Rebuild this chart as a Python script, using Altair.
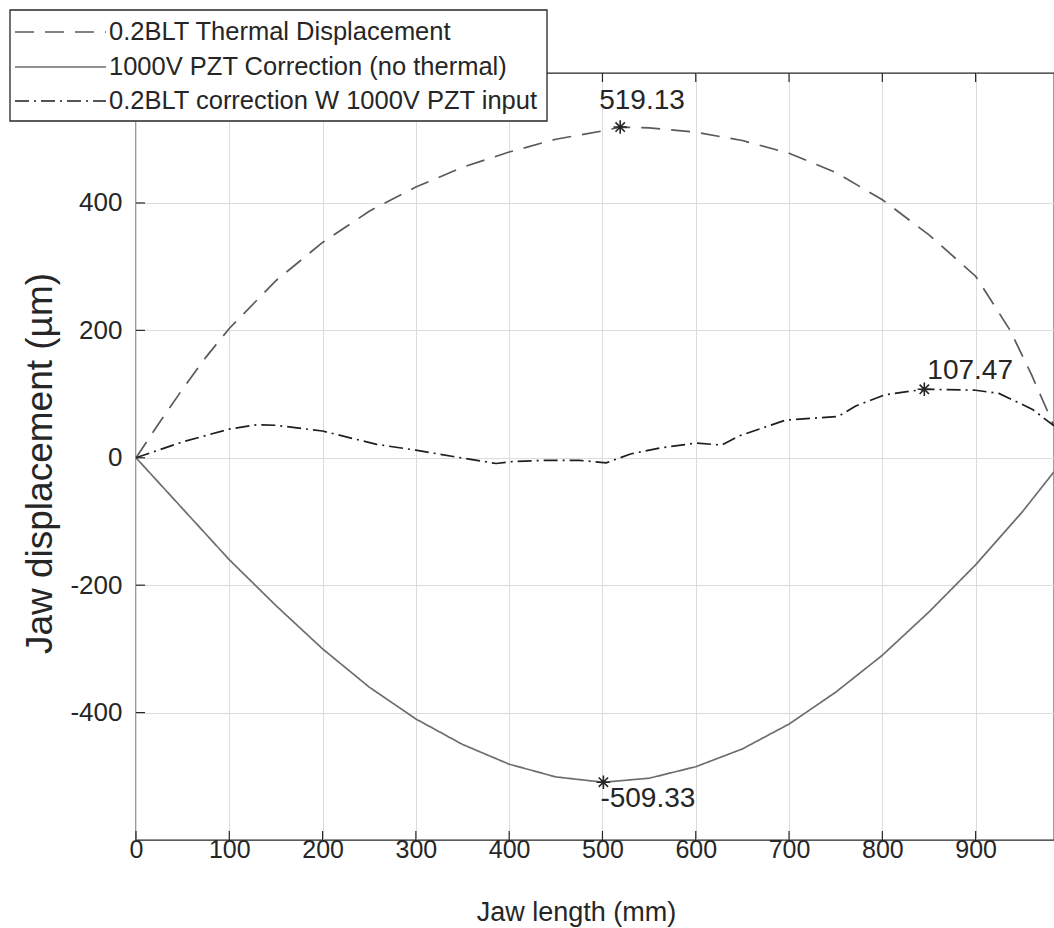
import altair as alt
import pandas as pd

SERIES = [
    "0.2BLT Thermal Displacement",
    "1000V PZT Correction (no thermal)",
    "0.2BLT correction W 1000V PZT input",
]

thermal_x = [0, 25, 50, 75, 100, 150, 200, 250, 300, 350, 400, 450, 500, 519, 550, 600,
             650, 700, 750, 800, 850, 900, 937, 960, 984]
thermal_y = [0, 55, 108, 158, 203, 278, 338, 387, 425, 456, 480, 500, 513, 519.13, 518, 511,
             498, 478, 448, 405, 350, 285, 200, 130, 50]

pzt_x = [0, 50, 100, 150, 200, 250, 300, 350, 400, 450, 501, 550, 600, 650, 700, 750, 800,
         850, 900, 950, 984]
pzt_y = [0, -80, -160, -232, -300, -360, -410, -450, -481, -501, -509.33, -503, -485, -457,
         -418, -368, -310, -242, -168, -85, -22]

corr_x = [0, 50, 100, 130, 150, 200, 258, 300, 340, 386, 403, 440, 475, 504, 530, 564, 600,
          628, 646, 696, 753, 771, 803, 845, 870, 900, 925, 961, 984]
corr_y = [0, 25, 45, 52, 51, 42, 21, 12, 2, -9, -6, -4, -4, -8, 6, 16, 23,
          20, 34, 59, 65, 81, 99, 107.47, 107, 106, 101, 76, 50]

peak_x = [519, 501, 845]
peak_y = [519.13, -509.33, 107.47]
peak_label = ["519.13", "-509.33", "107.47"]

X_TICKS = [0, 100, 200, 300, 400, 500, 600, 700, 800, 900]
Y_TICKS = [-400, -200, 0, 200, 400]

FONT = "Liberation Sans"
INK = "#262626"
W, H = 918, 767

frames = []
for name, xs_, ys_ in zip(SERIES, [thermal_x, pzt_x, corr_x], [thermal_y, pzt_y, corr_y]):
    frames.append(pd.DataFrame({"x": xs_, "y": ys_, "series": name}))
lines_df = pd.concat(frames, ignore_index=True)

xscale = alt.Scale(domain=[0, 984], nice=False, zero=False)
yscale = alt.Scale(domain=[-600, 604], nice=False, zero=False)

xaxis = alt.Axis(values=X_TICKS, title="Jaw length (mm)", grid=True, gridColor="#dcdcdc",
                 gridWidth=1, domain=False, ticks=False, labelFont=FONT, labelFontSize=25,
                 labelColor=INK, labelPadding=-3, labelFlush=False, labelOverlap=False,
                 titleFont=FONT, titleFontSize=27, titleFontWeight="normal", titleColor=INK,
                 titleX=440, titleY=72, titleBaseline="middle")
yaxis = alt.Axis(values=Y_TICKS, title="Jaw displacement (µm)", grid=True, gridColor="#dcdcdc",
                 gridWidth=1, domain=False, ticks=False, labelFont=FONT, labelFontSize=26,
                 labelColor=INK, labelPadding=14, labelFlush=False, labelOverlap=False,
                 labelExpr="'' + datum.value",
                 titleFont=FONT, titleFontSize=37, titleFontWeight="normal", titleColor=INK,
                 titleAngle=270, titleX=-96, titleY=390, titleBaseline="middle")

X = alt.X("x:Q", scale=xscale, axis=xaxis)
Y = alt.Y("y:Q", scale=yscale, axis=yaxis)

COLORS = ["#5a5a5a", "#6e6e6e", "#1e1e1e"]
DASHES = [[19, 11], [1, 0], [14, 5, 2, 5]]

lines = alt.Chart(lines_df).mark_line(strokeWidth=1.7).encode(
    x=X, y=Y,
    color=alt.Color("series:N", scale=alt.Scale(domain=SERIES, range=COLORS), legend=None),
    strokeDash=alt.StrokeDash("series:N", scale=alt.Scale(domain=SERIES, range=DASHES), legend=None),
    detail="series:N",
)

# inward ticks
xt_df = pd.DataFrame({"x": X_TICKS})
yt_df = pd.DataFrame({"y": Y_TICKS})
tick_bottom = alt.Chart(xt_df).mark_rule(color=INK, strokeWidth=1.2).encode(
    x=X, y=alt.value(H), y2=alt.value(H - 9))
tick_top = alt.Chart(xt_df).mark_rule(color=INK, strokeWidth=1.2).encode(
    x=X, y=alt.value(0), y2=alt.value(9))
tick_left = alt.Chart(yt_df).mark_rule(color=INK, strokeWidth=1.2).encode(
    y=Y, x=alt.value(0), x2=alt.value(9))

# peak markers
STAR = "M-1,0L1,0M0,-1L0,1M-0.7,-0.7L0.7,0.7M-0.7,0.7L0.7,-0.7"
peaks_df = pd.DataFrame({"x": peak_x, "y": peak_y, "label": peak_label})
stars = alt.Chart(peaks_df).mark_point(shape=STAR, filled=False, size=180, stroke=INK,
                                       strokeWidth=1.6, opacity=1).encode(x=X, y=Y)

offsets = [(-21, -26), (-3, 17), (3, -18)]
ann_layers = []
for i, (dx, dy) in enumerate(offsets):
    ann_layers.append(
        alt.Chart(peaks_df.iloc[[i]]).mark_text(font=FONT, fontSize=28, color=INK, align="left",
                                               baseline="middle", dx=dx, dy=dy).encode(
            x=X, y=Y, text="label:N")
    )

# legend box drawn manually
box = alt.Chart(pd.DataFrame({"k": [0]})).mark_rect(fill="white", stroke=INK, strokeWidth=1.3).encode(
    x=alt.value(-126), x2=alt.value(411), y=alt.value(-63), y2=alt.value(48))
leg_layers = [box]
row_y = [-41, -6, 28]
for i, name in enumerate(SERIES):
    ldf = pd.DataFrame({"name": [name]})
    leg_layers.append(alt.Chart(ldf).mark_rule(color=COLORS[i], strokeWidth=1.7, strokeDash=DASHES[i]).encode(
        x=alt.value(-121), x2=alt.value(-30), y=alt.value(row_y[i])))
    leg_layers.append(alt.Chart(ldf).mark_text(font=FONT, fontSize=25.5, color=INK, align="left",
                                               baseline="middle").encode(
        x=alt.value(-27), y=alt.value(row_y[i]), text="name:N"))

chart = alt.layer(lines, tick_bottom, tick_top, tick_left, stars, *ann_layers, *leg_layers).properties(
    width=W, height=H,
    autosize=alt.AutoSizeParams(type="none"),
    padding={"left": 136, "top": 73, "right": 0, "bottom": 88},
    background="white",
).configure_view(stroke=INK, strokeWidth=1.3)

chart.save("out.html", embed_options={"renderer": "svg", "actions": False})
